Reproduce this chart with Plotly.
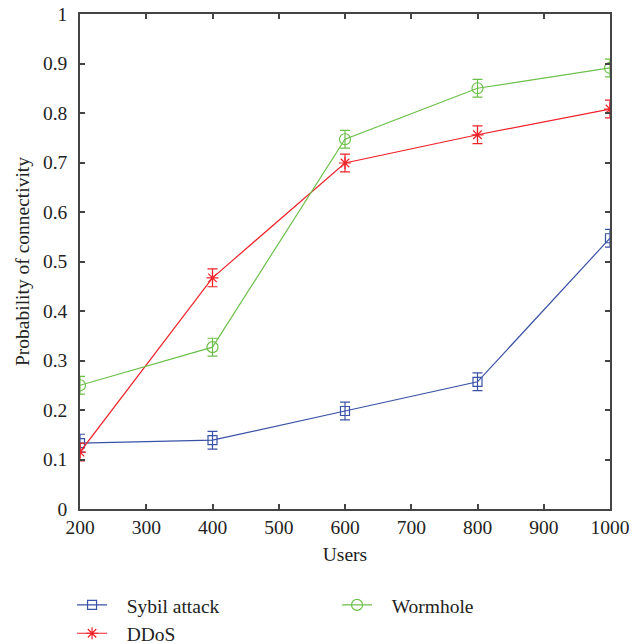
import plotly.graph_objects as go

users = [200, 400, 600, 800, 1000]
sybil = [0.133, 0.139, 0.198, 0.257, 0.547]
ddos = [0.115, 0.467, 0.699, 0.756, 0.808]
wormhole = [0.250, 0.327, 0.747, 0.850, 0.891]
sybil_err = [0.018, 0.018, 0.018, 0.018, 0.018]
ddos_err = [0.018, 0.018, 0.018, 0.018, 0.018]
worm_err = [0.018, 0.018, 0.018, 0.018, 0.018]

blue = "#3a52a6"
red = "#ee2229"
green = "#6cc04a"

font = "Liberation Serif"
fs = 19.5
pad = "\u00a0\u00a0\u00a0"

fig = go.Figure()
fig.add_trace(go.Scatter(
    x=users, y=sybil, name=pad + "Sybil attack", mode="lines+markers",
    line=dict(color=blue, width=1.2),
    marker=dict(symbol="square-open", size=9, color=blue, line=dict(width=1.2)),
    error_y=dict(type="data", array=sybil_err, color=blue, thickness=1.2, width=5),
    legend="legend"))
fig.add_trace(go.Scatter(
    x=users, y=ddos, name=pad + "DDoS", mode="lines+markers",
    line=dict(color=red, width=1.2),
    marker=dict(symbol="asterisk-open", size=10, color=red, line=dict(width=1.2, color=red)),
    error_y=dict(type="data", array=ddos_err, color=red, thickness=1.2, width=5),
    legend="legend"))
fig.add_trace(go.Scatter(
    x=users, y=wormhole, name=pad + "Wormhole", mode="lines+markers",
    line=dict(color=green, width=1.2),
    marker=dict(symbol="circle-open", size=11, color=green, line=dict(width=1.2)),
    error_y=dict(type="data", array=worm_err, color=green, thickness=1.2, width=5),
    legend="legend2"))

axis_common = dict(
    showline=True, linecolor="#444", linewidth=1.5, mirror="ticks",
    ticks="inside", ticklen=5, tickcolor="#444", tickwidth=1.5,
    showgrid=False, zeroline=False,
    tickfont=dict(family=font, size=fs, color="#222"),
)

fig.update_layout(
    width=633, height=644,
    margin=dict(l=80, r=23, t=14, b=135, autoexpand=False),
    plot_bgcolor="white", paper_bgcolor="white",
    font=dict(family=font, size=fs, color="#222"),
    xaxis=dict(range=[200, 1000], dtick=100, ticklabelstandoff=0,
               title=dict(text="Users", font=dict(family=font, size=fs), standoff=10),
               **axis_common),
    yaxis=dict(range=[0, 1], dtick=0.1, tickformat="~g", ticklabelstandoff=7,
               title=dict(text="Probability of connectivity", font=dict(family=font, size=fs), standoff=8),
               **axis_common),
    legend=dict(x=-0.015, y=-0.155, xanchor="left", yanchor="top",
                orientation="v", font=dict(family=font, size=fs),
                bgcolor="rgba(0,0,0,0)", tracegroupgap=0),
    legend2=dict(x=0.485, y=-0.155, xanchor="left", yanchor="top",
                 orientation="v", font=dict(family=font, size=fs),
                 bgcolor="rgba(0,0,0,0)"),
)

fig.write_html("out.html")
